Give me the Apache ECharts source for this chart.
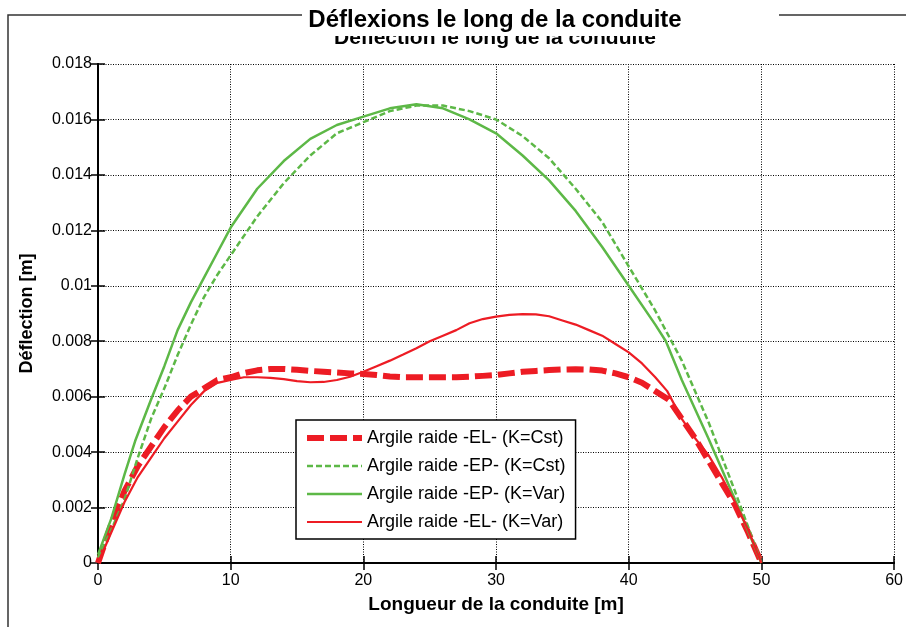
<!DOCTYPE html>
<html>
<head>
<meta charset="utf-8">
<script src="https://cdn.jsdelivr.net/npm/echarts@6/dist/echarts.min.js"></script>
<style>
html,body{margin:0;padding:0;background:#fff;}
#c{width:906px;height:627px;}
</style>
</head>
<body>
<div id="c"></div>
<script>
// ---- Data ----
const xTicks = [0, 10, 20, 30, 40, 50, 60];
const yTicks = [0, 0.002, 0.004, 0.006, 0.008, 0.01, 0.012, 0.014, 0.016, 0.018];

const nameElCst = 'Argile raide -EL- (K=Cst)';
const nameEpCst = 'Argile raide -EP- (K=Cst)';
const nameEpVar = 'Argile raide -EP- (K=Var)';
const nameElVar = 'Argile raide -EL- (K=Var)';

const xElCst = [0,1,2,3,4,5,6,7,8,9,10,11,12,13,14,15,16,17,18,19,20,21,22,23,24,25,26,27,28,29,30,31,32,33,34,35,36,37,38,39,40,41,42,43,44,45,46,47,48,49,50];
const yElCst = [0,0.0014,0.0026,0.0035,0.0042,0.0049,0.0055,0.006,0.0063,0.0066,0.0067,0.00685,0.00695,0.007,0.007,0.00697,0.00693,0.0069,0.00687,0.00684,0.00682,0.00678,0.00673,0.0067,0.0067,0.0067,0.0067,0.0067,0.00672,0.00675,0.00678,0.00684,0.0069,0.00693,0.00696,0.00698,0.00699,0.00698,0.00694,0.00684,0.0067,0.0065,0.0062,0.0059,0.0052,0.0045,0.0037,0.0029,0.0021,0.0011,0];

const xEpCst = [0,1,2,3,4,5,6,7,8,9,10,12,14,16,18,20,22,24,26,28,30,32,34,36,38,40,42,44,46,48,50];
const yEpCst = [0.0002,0.0012,0.0023,0.0038,0.0052,0.0063,0.0075,0.0086,0.0096,0.0104,0.0111,0.0125,0.0137,0.0147,0.0155,0.0159,0.0163,0.0165,0.0165,0.0163,0.016,0.0154,0.0146,0.0135,0.0123,0.0107,0.0091,0.0073,0.0051,0.0026,0];

const xEpVar = [0,1,2,2.8,4,5,6,7,8,9,10,12,14,16,18,20,22,24,26,28,30,32,34,36,38,40,42,42.8,44,46,48,50];
const yEpVar = [0.0003,0.0016,0.0032,0.0044,0.0059,0.0071,0.0084,0.0094,0.0103,0.0112,0.0121,0.0135,0.0145,0.0153,0.0158,0.0161,0.0164,0.01655,0.0164,0.016,0.0155,0.0147,0.0138,0.0127,0.0114,0.01,0.0086,0.008,0.0066,0.0045,0.0023,0];

const xElVar = [0,1,2,3,4,5,6,7,8,9,10,11,12,13,14,15,16,17,18,19,20,21,22,23,24,25,26,27,28,29,30,31,32,33,34,35,36,37,38,39,40,41,42,42.9,44,45,46,47,48,49,50];
const yElVar = [0,0.0011,0.0022,0.0031,0.0038,0.0045,0.0051,0.0057,0.0062,0.0065,0.0066,0.0067,0.0067,0.00668,0.00663,0.00656,0.00652,0.00653,0.0066,0.00672,0.0069,0.0071,0.0073,0.00752,0.00775,0.008,0.0082,0.0084,0.00865,0.0088,0.00889,0.00895,0.00898,0.00897,0.0089,0.00875,0.0086,0.0084,0.0082,0.0079,0.0076,0.0072,0.0067,0.0062,0.0052,0.0045,0.0039,0.0031,0.0022,0.0012,0];

const titleMain = 'Déflexions le long de la conduite';
const titleHidden = 'Déflection le long de la conduite';
const xName = 'Longueur de la conduite [m]';
const yName = 'Déflection [m]';

// ---- Chart ----
const FONT = "'Liberation Sans', Arial, Helvetica, sans-serif";
const RED = '#ED1C24';
const GREEN = '#5DB847';
const pairs = (xs, ys) => xs.map((x, i) => [x, ys[i]]);

const chart = echarts.init(document.getElementById('c'), null, {renderer: 'canvas'});

const axisCommon = {
  axisLine: {show: true, lineStyle: {color: '#000', width: 2}},
  axisTick: {show: true, inside: true, length: 7, lineStyle: {color: '#000', width: 1.5}},
};

chart.setOption({
  animation: false,
  backgroundColor: '#fff',
  textStyle: {fontFamily: FONT},
  grid: {left: 98, right: 8, top: 64, bottom: 64, containLabel: false},
  graphic: [
    {type: 'rect', z: 0, silent: true, shape: {x: 8, y: 15, width: 1200, height: 1200},
     style: {fill: 'none', stroke: '#333', lineWidth: 1.5}},
    {type: 'text', z: 1, silent: true, x: 495, y: 38,
     style: {text: titleHidden, fill: '#000', font: 'bold 21px ' + FONT, align: 'center', verticalAlign: 'middle'}},
    {type: 'rect', z: 2, silent: true, shape: {x: 302, y: 0, width: 477, height: 36},
     style: {fill: '#fff', stroke: 'none'}},
    {type: 'text', z: 3, silent: true, x: 495, y: 20,
     style: {text: titleMain, fill: '#000', font: 'bold 24px ' + FONT, align: 'center', verticalAlign: 'middle'}}
  ],
  legend: {
    orient: 'vertical',
    left: 296, top: 420,
    itemWidth: 55, itemHeight: 14, itemGap: 10,
    padding: [9, 10, 8, 8],
    backgroundColor: '#fff',
    borderColor: '#000', borderWidth: 1.5, borderRadius: 0,
    itemStyle: {opacity: 0},
    lineStyle: {width: 'inherit'},
    textStyle: {fontSize: 18, color: '#000', fontFamily: FONT},
    data: [nameElCst, nameEpCst, nameEpVar, nameElVar]
  },
  xAxis: [
    Object.assign({
      type: 'value', min: xTicks[0], max: xTicks[xTicks.length - 1], interval: 10,
      name: xName, nameLocation: 'middle', nameGap: 32,
      nameTextStyle: {fontSize: 19, fontWeight: 'bold', color: '#000', fontFamily: FONT},
      axisLabel: {fontSize: 16, color: '#000', margin: 10, fontFamily: FONT},
      splitLine: {show: true, lineStyle: {color: '#000', width: 1, type: [1, 1.5]}}
    }, axisCommon),
    Object.assign({
      type: 'value', position: 'top', min: xTicks[0], max: xTicks[xTicks.length - 1], interval: 10,
      axisLabel: {show: false}, splitLine: {show: false}
    }, axisCommon)
  ],
  yAxis: [
    Object.assign({
      type: 'value', min: yTicks[0], max: yTicks[yTicks.length - 1], interval: 0.002,
      name: yName, nameLocation: 'middle', nameGap: 62,
      nameTextStyle: {fontSize: 18, fontWeight: 'bold', color: '#000', fontFamily: FONT},
      axisLabel: {fontSize: 16, color: '#000', margin: 6, fontFamily: FONT,
        formatter: v => (Math.abs(v) < 1e-12 ? '0' : String(+v.toFixed(3)))},
      splitLine: {show: true, lineStyle: {color: '#000', width: 1, type: [1, 1.5]}}
    }, axisCommon),
    Object.assign({
      type: 'value', position: 'right', min: yTicks[0], max: yTicks[yTicks.length - 1], interval: 0.002,
      axisLabel: {show: false}, splitLine: {show: false}
    }, axisCommon)
  ],
  series: [
    {name: nameElCst, type: 'line', data: pairs(xElCst, yElCst), symbol: 'none', showSymbol: false,
     color: RED, lineStyle: {color: RED, width: 6, type: [17, 6], cap: 'butt'}, z: 3},
    {name: nameEpCst, type: 'line', data: pairs(xEpCst, yEpCst), symbol: 'none', showSymbol: false,
     color: GREEN, lineStyle: {color: GREEN, width: 2.5, type: [6, 3]}, z: 4},
    {name: nameEpVar, type: 'line', data: pairs(xEpVar, yEpVar), symbol: 'none', showSymbol: false,
     color: GREEN, lineStyle: {color: GREEN, width: 2.5, type: 'solid'}, z: 5},
    {name: nameElVar, type: 'line', data: pairs(xElVar, yElVar), symbol: 'none', showSymbol: false,
     color: RED, lineStyle: {color: RED, width: 2.2, type: 'solid'}, z: 6}
  ]
});
</script>
</body>
</html>
